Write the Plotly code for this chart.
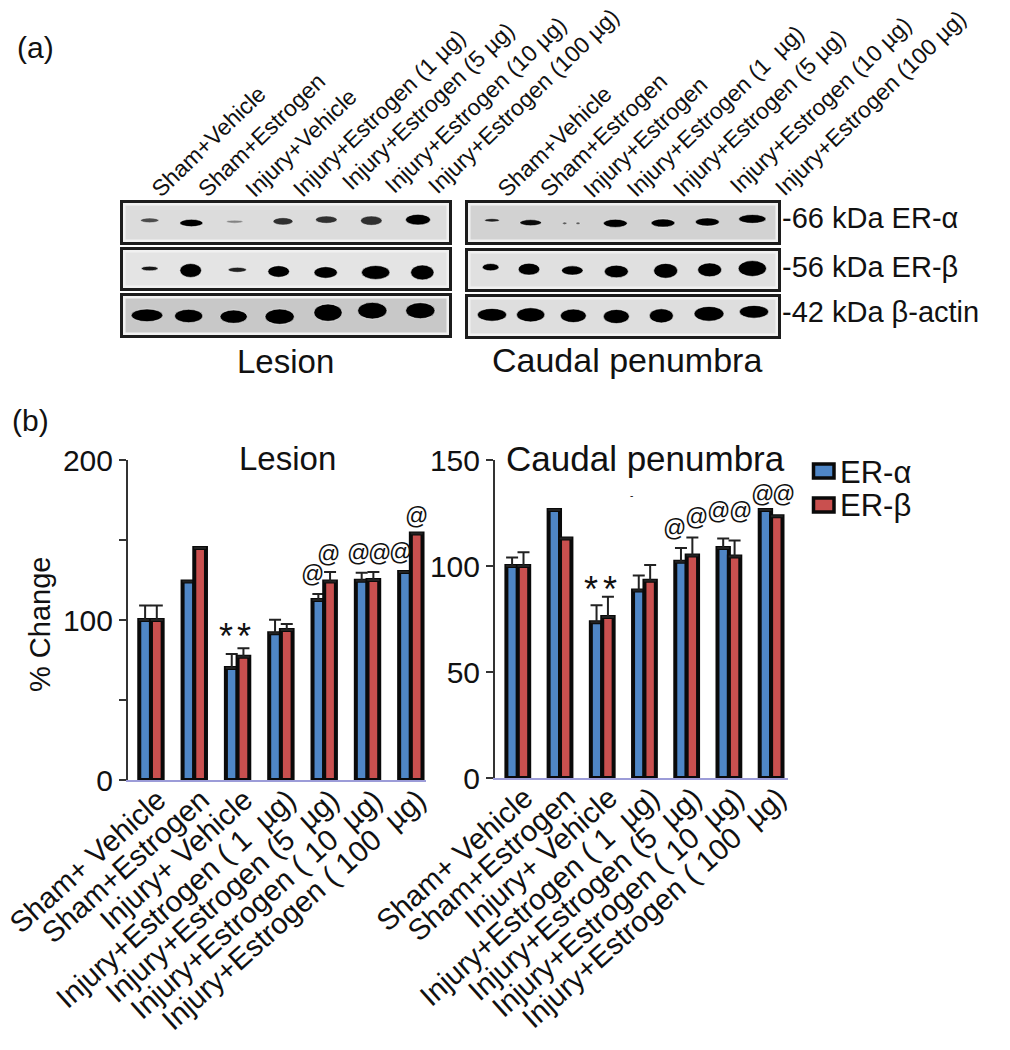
import plotly.graph_objects as go

W, H = 1010, 1050
FONT = "Liberation Sans"
BLUE, RED, INK = "#4f86c6", "#c9504f", "#111111"

# ---------- bar data ----------
cats_les = ["Sham+ Vehicle", "Sham+Estrogen", "Injury+ Vehicle", "Injury+Estrogen ( 1 \u00a0µg)",
            "Injury+Estrogen (5 \u00a0µg)", "Injury+Estrogen ( 10 \u00a0µg)", "Injury+Estrogen ( 100 \u00a0µg)"]
cats_cau = cats_les
top_labels_les = ["Sham+Vehicle", "Sham+Estrogen", "Injury+Vehicle", "Injury+Estrogen (1 µg)",
                  "Injury+Estrogen (5 µg)", "Injury+Estrogen (10 µg)", "Injury+Estrogen (100 µg)"]
top_labels_cau = ["Sham+Vehicle", "Sham+Estrogen", "Injury+Estrogen", "Injury+Estrogen (1  µg)",
                  "Injury+Estrogen (5 µg)", "Injury+Estrogen (10 µg)", "Injury+Estrogen (100 µg)"]

les_alpha = [100, 124, 70, 91.7, 112.5, 124.6, 130]
les_beta = [100, 145, 77, 93.8, 124, 125, 154]
les_alpha_err = [9, None, 8.7, 8.5, 3.7, 5, None]
les_beta_err = [9, None, 5.4, 3.7, 6, 5, None]

cau_alpha = [100, 126.4, 73.5, 88.5, 102, 108.5, 126.4]
cau_beta = [100, 113, 76, 93, 105, 104.5, 123.5]
cau_alpha_err = [4, None, 8, 7, 6.5, 4.5, None]
cau_beta_err = [6.5, None, 9.5, 7.5, 8.5, 7.5, None]

# significance marks: lane position, value
les_at_x = [3.72, 4.10, 4.78, 5.27, 5.77, 6.12]
les_at_y = [129, 141, 142, 142, 142.5, 165]
cau_at_x = [3.71, 4.23, 4.75, 5.27, 5.79, 6.29]
cau_at_y = [118, 123, 126, 126, 134, 134]

# ---------- blot data (band centre, size, darkness) ----------
blot_les_a = dict(x=[120, 245, 375, 520, 650, 785, 925], y=[92, 100, 96, 95, 90, 93, 90],
                  w=[55, 70, 50, 60, 65, 65, 75], h=[14, 22, 9, 22, 22, 28, 32],
                  o=[.65, 1, .4, .78, .78, .78, 1])
blot_les_b = dict(x=[120, 243, 383, 507, 648, 798, 938], y=[236, 242, 240, 245, 248, 248, 248],
                  w=[50, 65, 55, 65, 70, 85, 70], h=[14, 42, 15, 35, 35, 42, 45],
                  o=[.9, 1, .85, 1, 1, 1, 1])
blot_les_c = dict(x=[112, 237, 372, 510, 655, 788, 932], y=[376, 378, 380, 380, 368, 362, 362],
                  w=[95, 85, 82, 88, 85, 88, 88], h=[38, 40, 40, 46, 52, 50, 48],
                  o=[1, 1, 1, 1, 1, 1, 1])
blot_cau_a = dict(x=[97, 213, 315, 355, 467, 610, 743, 878], y=[91, 98, 100, 100, 100, 99, 96, 87],
                  w=[45, 65, 12, 12, 72, 72, 72, 82], h=[10, 18, 8, 8, 24, 24, 24, 26],
                  o=[.85, .95, .55, .55, 1, 1, 1, 1])
blot_cau_b = dict(x=[93, 208, 338, 470, 618, 750, 878], y=[232, 238, 242, 245, 243, 240, 236],
                  w=[50, 65, 65, 72, 72, 72, 85], h=[22, 36, 28, 38, 45, 42, 48],
                  o=[1, 1, 1, 1, 1, 1, 1])
blot_cau_c = dict(x=[97, 213, 341, 470, 605, 748, 883], y=[375, 375, 378, 380, 378, 372, 366],
                  w=[88, 85, 78, 78, 72, 90, 88], h=[38, 42, 40, 42, 42, 44, 38],
                  o=[1, 1, 1, 1, 1, 1, 1])


def xd(a, b):
    return [a / W, b / W]


def yd(top, bottom):
    return [1 - bottom / H, 1 - top / H]


fig = go.Figure()
layout = dict(
    template="none",
    width=W, height=H, autosize=False, margin=dict(l=0, r=0, t=0, b=0, pad=0, autoexpand=False),
    paper_bgcolor="white", plot_bgcolor="white",
    font=dict(family=FONT, color=INK),
    barmode="group", showlegend=False,
)


def bar_axes(n, px0, px1, top, bottom, xr, yr, major, minor, cats):
    sx = "" if n == 1 else str(n)
    layout["xaxis" + sx] = dict(domain=xd(px0, px1), range=xr, anchor="y" + sx, type="category",
                                categoryorder="array", categoryarray=cats, automargin=False,
                                tickmode="array", tickvals=cats, ticktext=cats,
                                tickangle=-42, tickfont=dict(size=29.5, family=FONT),
                                ticks="", showgrid=False, zeroline=False, showline=True,
                                linecolor="#9c9cd8", linewidth=2, ticklabelstandoff=-11,
                                ticklabelshift=7)
    y = dict(domain=yd(top, bottom), range=yr, anchor="x" + sx, tickmode="array", automargin=False,
             tickvals=major, ticks="outside", ticklen=7, tickwidth=2, tickcolor="#333",
             tickfont=dict(size=30, family=FONT), showgrid=False, zeroline=False,
             showline=True, linecolor="#333", linewidth=2)
    if minor:
        y["minor"] = dict(tickmode="array", tickvals=minor, ticks="outside", ticklen=7,
                          tickwidth=2, tickcolor="#333")
    layout["yaxis" + sx] = y


bar_axes(1, 128, 426, 460, 780, [-0.53, 6.35], [0, 200], [0, 100, 200], [50, 150], cats_les)
bar_axes(2, 495, 788, 460, 778, [-0.54, 6.40], [0, 150], [0, 50, 100, 150], None, cats_cau)
layout["bargap"] = 0.46
layout["bargroupgap"] = 0


def add_bars(cats, vals, errs, color, name, axis):
    fig.add_trace(go.Bar(
        x=cats, y=vals, name=name, legendgroup=name,
        marker=dict(color=color, line=dict(color="#0a0a0a", width=4)),
        error_y=dict(type="data", array=errs, arrayminus=[0] * len(errs), symmetric=False,
                     color="#222", thickness=2, width=6),
        xaxis="x" + axis, yaxis="y" + axis, offsetgroup=name,
    ))


add_bars(cats_les, les_alpha, les_alpha_err, BLUE, "ER-α", "")
add_bars(cats_les, les_beta, les_beta_err, RED, "ER-β", "")
add_bars(cats_cau, cau_alpha, cau_alpha_err, BLUE, "ER-α", "2")
add_bars(cats_cau, cau_beta, cau_beta_err, RED, "ER-β", "2")

shapes = []
annos = []


def blot(n, band, px0, px1, top, bottom, xr, yr, bg):
    sx = str(n)
    layout["xaxis" + sx] = dict(domain=xd(px0, px1), range=xr, anchor="y" + sx, visible=True,
                                showticklabels=False, ticks="", showgrid=False, zeroline=False,
                                automargin=False,
                                showline=True, mirror=True, linecolor="#1c1c1c", linewidth=3)
    layout["yaxis" + sx] = dict(domain=yd(top, bottom), range=yr, anchor="x" + sx,
                                showticklabels=False, ticks="", showgrid=False, zeroline=False,
                                automargin=False,
                                showline=True, mirror=True, linecolor="#1c1c1c", linewidth=3)
    fig.add_trace(go.Scatter(x=band["x"], y=band["y"], mode="markers", marker=dict(size=1, opacity=0),
                             xaxis="x" + sx, yaxis="y" + sx, showlegend=False, hoverinfo="skip"))
    shapes.append(dict(type="rect", xref=f"x{sx} domain", yref=f"y{sx} domain", x0=0, x1=1, y0=0, y1=1,
                       fillcolor=bg, line=dict(color="#f1f1f1", width=5), layer="below"))
    for cx, cy, w, h, o in zip(band["x"], band["y"], band["w"], band["h"], band["o"]):
        shapes.append(dict(type="circle", xref="x" + sx, yref="y" + sx,
                           x0=cx - w / 2, x1=cx + w / 2, y0=cy - h / 2, y1=cy + h / 2,
                           fillcolor="black", opacity=o,
                           line=dict(color="rgba(255,255,255,0.55)", width=1)))


blot(3, blot_les_a, 123, 449, 203, 242, [40, 1018], [157, 40], "#dcdcdc")
blot(4, blot_les_b, 123, 449, 250, 288, [40, 1018], [295, 180], "#e4e4e4")
blot(5, blot_les_c, 123, 449, 296, 335, [40, 1018], [435, 318], "#c8c8c8")
blot(6, blot_cau_a, 468, 778, 203, 242, [25, 955], [155, 40], "#d2d2d2")
blot(7, blot_cau_b, 468, 778, 251, 289, [25, 955], [298, 183], "#e0e0e0")
blot(8, blot_cau_c, 468, 778, 297, 336, [25, 955], [438, 322], "#dedede")


def text_px(s, x, y, size, xanchor="center", yanchor="middle", angle=0, color=INK):
    annos.append(dict(text=s, x=x / W, y=1 - y / H, xref="paper", yref="paper", showarrow=False,
                      xanchor=xanchor, yanchor=yanchor, textangle=angle,
                      font=dict(size=size, family=FONT, color=color)))


def text_data(s, x, y, axis, size):
    annos.append(dict(text=s, x=x, y=y, xref="x" + axis, yref="y" + axis, showarrow=False,
                      font=dict(size=size, family=FONT, color=INK)))


text_px("(a)", 35, 47, 30)
text_px("(b)", 30, 420, 30)
text_px("% Change", 40, 625, 29, angle=-90)
text_px("Lesion", 287, 458, 33)
text_px("Caudal penumbra", 645, 458, 35)
text_px("Lesion", 285, 361, 33)
text_px("Caudal penumbra", 627, 360, 34)
text_px("-66 kDa ER-α", 780, 218, 29, xanchor="left")
text_px("-56 kDa ER-β", 780, 267, 29, xanchor="left")
text_px("-42 kDa β-actin", 780, 312, 29, xanchor="left")
text_px("-", 631, 496, 10)

# legend
legend_names = ["ER-α", "ER-β"]
legend_colors = [BLUE, RED]
legend_top = [464, 498]
for name, col, top in zip(legend_names, legend_colors, legend_top):
    shapes.append(dict(type="rect", xref="paper", yref="paper",
                       x0=813.5 / W, x1=834 / W, y0=1 - (top + 14) / H, y1=1 - top / H,
                       fillcolor=col, line=dict(color="#0a0a0a", width=3.5)))
    text_px(name, 838, top + 8, 31, xanchor="left")

les_start = [144, 190, 237, 285, 334, 377, 420]
les_base = [205, 205, 205, 205, 198, 201, 201]
cau_start = [490, 532, 575, 619, 665, 722, 767]
cau_base = [205, 205, 205, 205, 205, 201, 203]
for s, x, y in zip(top_labels_les, les_start, les_base):
    text_px(s, x, y, 23, xanchor="left", yanchor="bottom", angle=-44)
for s, x, y in zip(top_labels_cau, cau_start, cau_base):
    text_px(s, x, y, 23, xanchor="left", yanchor="bottom", angle=-44)

text_data("*", 1.73, 90, "", 36)
text_data("*", 2.15, 90, "", 36)
text_data("*", 1.74, 89, "2", 36)
text_data("*", 2.18, 89, "2", 36)
for x, y in zip(les_at_x, les_at_y):
    text_data("@", x, y, "", 23)
for x, y in zip(cau_at_x, cau_at_y):
    text_data("@", x, y, "2", 23)

layout["shapes"] = shapes
layout["annotations"] = annos
fig.update_layout(**layout)
fig.write_html("out.html", post_script="document.body.style.margin='0';",
               config={"displayModeBar": False})
